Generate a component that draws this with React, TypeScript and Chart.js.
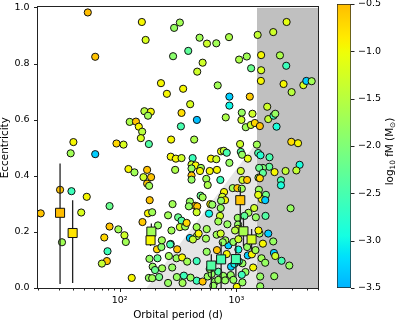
import React, { useEffect, useRef } from 'react';
import { Chart, registerables } from 'chart.js';

Chart.register(...registerables);

// ---------- data: binaries (circles) ----------
const period = [
  53.4, 61.8, 155, 167, 293, 328, 484, 560, 673, 865, 1521, 2068, 2692, 287, 387, 514, 462, 1055, 1228, 1337,
  1629, 2361, 2673, 226, 254, 350, 402, 692, 871, 871, 1303, 1629, 1621, 2535, 2972, 3746, 3972, 4415, 163, 185,
  175, 339, 459, 122, 138, 146, 156, 152, 335, 178, 276, 435, 94, 108, 40.2, 38.1, 61.8, 274, 303, 339,
  422, 811, 1113, 1104, 1373, 1837, 1874, 2080, 2152, 2208, 1204, 1330, 1439, 1589, 1076, 1498, 2952, 3373, 739, 780,
  827, 1091, 1119, 1253, 1537, 1609, 1922, 606, 673, 3480, 3262, 2638, 2122, 1911, 1687, 1568, 1687, 1546, 1589, 2409,
  2409, 871, 413, 448, 497, 413, 413, 413, 591, 682, 1091, 552, 729, 568, 1126, 1236, 931, 1020, 1113, 1558,
  1790, 1654, 1765, 784, 758, 800, 739, 494, 514, 598, 400, 119, 134, 172, 160, 186, 172, 179, 299, 181,
  82, 284, 21.1, 30.9, 38.7, 32.1, 52.3, 46.9, 82, 97.5, 110, 113, 73.9, 78.8, 77.8, 70.5, 127, 175, 190, 157,
  209, 228, 211, 264, 274, 311, 260, 317, 339, 328, 364, 375, 231, 192, 201, 282, 178, 190, 218, 260,
  309, 355, 346, 213, 278, 400, 459, 424, 444, 583, 557, 230, 271, 180, 307, 343, 457, 379, 557, 682,
  827, 853, 457, 514, 568, 614, 405, 656, 700, 773, 900, 1008, 462, 392, 622, 734, 1420, 1268, 1468, 1776,
  2913, 724, 837, 700, 1028, 1172, 1034, 1028, 457, 475, 549, 678, 734, 974, 804, 764, 942, 1040, 1040, 1236,
  1253, 1357, 1457, 1577, 1546, 1687, 1874, 2068, 2097, 2152, 2438, 2839, 1641, 1765, 2110, 1599, 1392, 1196, 1126, 1049,
  961, 591, 800, 895, 1008, 1126, 942, 700, 634, 1113, 1599, 488, 457, 1537,
];
const ecc = [
  0.982, 0.824, 0.948, 0.884, 0.927, 0.946, 0.892, 0.871, 0.872, 0.894, 0.902, 0.912, 0.948, 0.826, 0.845, 0.803, 0.771, 0.814, 0.825, 0.783,
  0.83, 0.829, 0.792, 0.73, 0.692, 0.71, 0.655, 0.722, 0.682, 0.65, 0.682, 0.776, 0.738, 0.727, 0.698, 0.723, 0.738, 0.737, 0.63, 0.628,
  0.614, 0.624, 0.599, 0.592, 0.593, 0.575, 0.557, 0.534, 0.576, 0.513, 0.529, 0.529, 0.515, 0.511, 0.52, 0.48, 0.477, 0.468, 0.461, 0.463,
  0.463, 0.608, 0.625, 0.599, 0.621, 0.646, 0.602, 0.614, 0.621, 0.575, 0.573, 0.581, 0.588, 0.577, 0.513, 0.511, 0.521, 0.516, 0.487, 0.489,
  0.482, 0.485, 0.475, 0.461, 0.481, 0.473, 0.466, 0.461, 0.459, 0.439, 0.419, 0.417, 0.413, 0.432, 0.428, 0.428, 0.41, 0.393, 0.391, 0.384,
  0.366, 0.446, 0.44, 0.437, 0.428, 0.426, 0.401, 0.386, 0.417, 0.421, 0.417, 0.389, 0.385, 0.367, 0.385, 0.385, 0.356, 0.356, 0.354, 0.35,
  0.332, 0.316, 0.313, 0.342, 0.325, 0.313, 0.311, 0.329, 0.323, 0.299, 0.308, 0.424, 0.412, 0.421, 0.395, 0.395, 0.372, 0.364, 0.421, 0.313,
  0.292, 0.299, 0.266, 0.35, 0.345, 0.163, 0.325, 0.269, 0.219, 0.209, 0.188, 0.164, 0.18, 0.131, 0.096, 0.087, 0.036, 0.266, 0.27, 0.235,
  0.138, 0.146, 0.106, 0.114, 0.157, 0.138, 0.259, 0.252, 0.24, 0.217, 0.219, 0.232, 0.07, 0.076, 0.064, 0.073, 0.036, 0.035, 0.039, 0.018,
  0.039, 0.044, 0.018, 0.223, 0.205, 0.178, 0.185, 0.173, 0.293, 0.265, 0.21, 0.17, 0.155, 0.104, 0.106, 0.109, 0.096, 0.094, 0.129, 0.135,
  0.121, 0.152, 0.026, 0.023, 0.041, 0.05, 0.037, 0.023, 0.058, 0.043, 0.076, 0.1, 0.291, 0.291, 0.297, 0.285, 0.285, 0.268, 0.252, 0.257,
  0.284, 0.257, 0.227, 0.237, 0.25, 0.257, 0.226, 0.211, 0.217, 0.194, 0.176, 0.19, 0.194, 0.205, 0.17, 0.163, 0.164, 0.174, 0.137, 0.146,
  0.116, 0.12, 0.135, 0.194, 0.205, 0.158, 0.194, 0.166, 0.125, 0.114, 0.097, 0.08, 0.106, 0.09, 0.042, 0.006, 0.073, 0.057, 0.088, 0.095,
  0.086, 0.068, 0.027, 0.046, 0.004, 0.02, 0.029, 0.029, 0.008, 0.047, 0.041, 0.417, 0.27, 0.332,
];
const logFM = [
  -0.5, -0.55, -0.95, -1.2, -1.8, -1.7, -1.7, -1.3, -1.7, -1.6, -1.4, -1.3, -1.1, -1.9, -2.3, -1.3, -1.3, -1.6, -1.7, -2.2,
  -0.95, -1.6, -2.6, -0.95, -0.95, -0.95, -1.2, -1.7, -3.3, -3.0, -0.6, -1.2, -0.95, -0.95, -1.5, -1.2, -3.3, -1.7, -1.5, -0.95,
  -1.7, -0.75, -3.4, -1.6, -0.55, -0.95, -1.5, -1.2, -2.5, -2.4, -0.95, -1.6, -0.7, -1.2, -0.95, -1.7, -3.3, -0.95, -0.95, -1.3,
  -2.6, -1.6, -1.8, -1.3, -1.3, -1.3, -1.4, -2.6, -1.8, -2.9, -1.7, -1.3, -0.7, -0.55, -1.3, -1.7, -0.75, -0.95, -1.0, -1.4,
  -2.5, -2.4, -1.8, -1.1, -2.5, -2.8, -2.5, -0.95, -1.3, -2.9, -1.4, -1.4, -0.95, -2.3, -2.0, -2.2, -2.3, -1.8, -0.7, -2.5,
  -2.9, -1.8, -1.3, -0.95, -1.7, -1.8, -0.55, -1.8, -0.95, -0.95, -1.3, -1.7, -2.6, -1.6, -1.3, -0.55, -1.7, -0.55, -1.7, -1.8,
  -2.1, -0.95, -3.3, -0.95, -1.3, -0.95, -1.8, -2.2, -1.7, -0.95, -1.8, -0.95, -1.7, -0.55, -1.3, -0.55, -0.55, -1.7, -1.6, -0.55,
  -2.2, -1.7, -0.55, -0.55, -2.6, -1.7, -0.95, -1.2, -0.55, -1.7, -1.3, -1.7, -0.7, -2.6, -0.55, -1.4, -0.95, -0.95, -1.7, -0.6,
  -0.7, -1.9, -2.2, -1.7, -2.5, -0.55, -1.7, -2.2, -2.4, -1.3, -1.7, -0.7, -1.7, -1.8, -2.2, -1.8, -1.8, -1.7, -2.1, -1.8,
  -1.8, -2.6, -1.7, -1.8, -1.7, -3.3, -1.6, -1.4, -0.55, -3.0, -1.7, -1.7, -2.5, -1.8, -1.8, -0.95, -2.6, -1.7, -1.8, -0.55,
  -0.95, -3.3, -2.6, -0.55, -1.8, -1.8, -1.8, -1.8, -2.4, -1.8, -3.3, -2.9, -0.55, -1.8, -1.8, -1.8, -1.3, -1.7, -1.8, -2.4,
  -1.8, -1.3, -1.8, -1.7, -1.8, -2.3, -1.8, -1.3, -1.7, -0.95, -1.7, -1.7, -1.3, -1.5, -1.7, -1.8, -1.8, -1.3, -2.9, -1.8,
  -3.3, -0.95, -1.7, -1.7, -0.95, -0.95, -3.3, -1.8, -3.3, -1.3, -2.5, -1.8, -1.7, -1.8, -1.8, -1.8, -0.95, -1.8, -1.8, -2.6,
  -3.0, -1.8, -1.8, -1.8, -0.95, -1.8, -1.8, -1.8, -1.8, -2.6, -1.8, -0.95, -1.3, -1.1,
];

// ---------- data: highlighted systems (squares with error bars) ----------
const sqPeriod = [30.9, 39.6, 187, 184, 1080, 1150, 1350, 740, 990, 610];
const sqEcc = [0.268, 0.196, 0.201, 0.17, 0.313, 0.202, 0.173, 0.102, 0.103, 0.08];
const sqLogFM = [-0.5, -0.8, -1.7, -0.95, -0.55, -1.65, -1.25, -2.5, -2.5, -2.4];
const sqEccLow = [0.014, 0.018, 0.17, 0.15, 0.21, 0.15, 0.13, 0.0, 0.04, 0.0];
const sqEccHigh = [0.444, 0.313, 0.23, 0.19, 0.36, 0.25, 0.21, 0.165, 0.16, 0.12];

// ---------- shaded regions ----------
const longPeriodLimit = 1500;
const wedgePeriod = [170, 1500];
const wedgeEcc = [0, 0.52];

// ---------- axes ----------
const X_MIN = 20;
const X_MAX = 5000;
const CB_MIN = -3.5;
const CB_MAX = -0.5;

const clamp = (v: number) => Math.min(1, Math.max(0, v));
function cmap(v: number): string {
  const f = clamp((v - CB_MIN) / (CB_MAX - CB_MIN));
  const t = 0.3 + 0.41 * f;
  const r = clamp((t - 0.35) / 0.31);
  const g = t < 0.125 ? 0 : t < 0.375 ? (t - 0.125) / 0.25 : t < 0.64 ? 1 : clamp((0.91 - t) / 0.27);
  const b = t < 0.34 ? 1 : clamp(1 - (t - 0.34) / 0.31);
  return `rgb(${Math.round(r * 255)},${Math.round(g * 255)},${Math.round(b * 255)})`;
}

const FONT = "'DejaVu Sans', sans-serif";
const TICK_FONT = { family: FONT, size: 9.5 };
const TITLE_FONT = { family: FONT, size: 10.4, lineHeight: 1 };
const NO_GRID = { display: false, drawTicks: false, tickLength: 0 };

const framePlugin = {
  id: 'frame',
  afterDraw(chart: any) {
    const { ctx, chartArea: a, scales } = chart;
    ctx.save();
    ctx.strokeStyle = '#222';
    ctx.lineWidth = 1;
    const L = Math.round(a.left) - 0.5;
    const R = Math.round(a.right) + 0.5;
    const T = Math.round(a.top) - 0.5;
    const B = Math.round(a.bottom) + 0.5;
    ctx.strokeRect(L, T, R - L, B - T);
    ctx.beginPath();
    for (const t of scales.x.ticks) {
      const px = Math.round(scales.x.getPixelForValue(t.value)) + 0.5;
      const lg = Math.log10(t.value);
      const major = Math.abs(lg - Math.round(lg)) < 1e-6;
      ctx.moveTo(px, B);
      ctx.lineTo(px, B + (major ? 3.5 : 2));
    }
    for (const t of scales.y.ticks) {
      const py = Math.round(scales.y.getPixelForValue(t.value)) + 0.5;
      ctx.moveTo(L, py);
      ctx.lineTo(L - 3.5, py);
    }
    ctx.stroke();
    ctx.restore();
  },
};

const cbLabelSegments = [
  { text: 'log', size: 10.4, dy: 0 },
  { text: '10', size: 7.3, dy: 2.4 },
  { text: ' fM (M', size: 10.4, dy: 0 },
  { text: '\u2299', size: 7.3, dy: 2.4 },
  { text: ')', size: 10.4, dy: 0 },
];

const colorbarPlugin = {
  id: 'cbdecor',
  afterDraw(chart: any) {
    const { ctx, chartArea: a, scales } = chart;
    ctx.save();
    ctx.strokeStyle = '#222';
    ctx.lineWidth = 1;
    ctx.beginPath();
    const R = Math.round(a.right);
    for (const t of scales.y.ticks) {
      const py = Math.round(scales.y.getPixelForValue(t.value)) + 0.5;
      ctx.moveTo(R, py);
      ctx.lineTo(R + 3.5, py);
    }
    ctx.stroke();
    // rotated colorbar label
    ctx.fillStyle = '#000';
    ctx.textBaseline = 'alphabetic';
    ctx.textAlign = 'left';
    let total = 0;
    const widths = cbLabelSegments.map((s) => {
      ctx.font = `${s.size}px ${FONT}`;
      const w = ctx.measureText(s.text).width;
      total += w;
      return w;
    });
    ctx.translate(59, 151.5);
    ctx.rotate(-Math.PI / 2);
    let x = -total / 2;
    cbLabelSegments.forEach((s, i) => {
      ctx.font = `${s.size}px ${FONT}`;
      ctx.fillText(s.text, x, 3.8 + s.dy);
      x += widths[i];
    });
    ctx.restore();
  },
};

export default function App() {
  const mainRef = useRef<HTMLCanvasElement>(null);
  const cbRef = useRef<HTMLCanvasElement>(null);

  useEffect(() => {
    Chart.defaults.font.family = FONT;

    const circles = period.map((p, i) => ({ x: p, y: ecc[i] }));
    const squares = sqPeriod.map((p, i) => ({ x: p, y: sqEcc[i] }));

    const errorBars = sqPeriod.map((p, i) => ({
      type: 'line' as const,
      data: [
        { x: p, y: sqEccLow[i] },
        { x: p, y: sqEccHigh[i] },
      ],
      borderColor: '#222',
      borderWidth: 1.3,
      pointRadius: 0,
      fill: false,
      order: 3,
    }));

    const main = new Chart(mainRef.current!, {
      type: 'scatter',
      data: {
        datasets: [
          {
            type: 'line',
            data: wedgePeriod.map((p, i) => ({ x: p, y: wedgeEcc[i] })),
            fill: 'origin',
            backgroundColor: 'rgb(229,229,229)',
            borderWidth: 0,
            borderColor: 'rgba(0,0,0,0)',
            pointRadius: 0,
            order: 11,
          } as any,
          {
            type: 'line',
            data: [
              { x: longPeriodLimit, y: 1 },
              { x: X_MAX * 3, y: 1 },
            ],
            fill: 'origin',
            backgroundColor: 'rgb(192,192,192)',
            borderWidth: 0,
            borderColor: 'rgba(0,0,0,0)',
            pointRadius: 0,
            order: 10,
          } as any,
          {
            type: 'scatter',
            data: circles,
            backgroundColor: logFM.map(cmap),
            pointBackgroundColor: logFM.map(cmap),
            borderColor: '#111',
            pointBorderColor: '#111',
            borderWidth: 1,
            pointBorderWidth: 1,
            pointRadius: 3.6,
            order: 5,
          } as any,
          ...(errorBars as any[]),
          {
            type: 'scatter',
            data: squares,
            pointStyle: 'rect',
            backgroundColor: sqLogFM.map(cmap),
            pointBackgroundColor: sqLogFM.map(cmap),
            borderColor: '#111',
            pointBorderColor: '#111',
            borderWidth: 1,
            pointBorderWidth: 1,
            pointRadius: 6.4,
            order: 1,
          } as any,
        ],
      },
      options: {
        responsive: false,
        animation: false,
        devicePixelRatio: 1,
        events: [],
        layout: { padding: { top: 4, right: 12, bottom: 0, left: 0 } },
        plugins: { legend: { display: false }, tooltip: { enabled: false } },
        scales: {
          x: {
            type: 'logarithmic',
            min: X_MIN,
            max: X_MAX,
            grid: NO_GRID,
            border: { display: false },
            ticks: {
              autoSkip: false,
              maxRotation: 0,
              color: '#000',
              font: TICK_FONT,
              padding: 7,
              callback: (v: any) => {
                const n = Number(v);
                if (Math.abs(n - 100) < 1e-6) return '10\u00B2';
                if (Math.abs(n - 1000) < 1e-6) return '10\u00B3';
                return '';
              },
            },
            title: {
              display: true,
              text: 'Orbital period (d)',
              color: '#000',
              font: TITLE_FONT,
              padding: { top: 0, bottom: 1.8 },
            },
            afterFit: (s: any) => {
              s.height = 34;
              s.paddingLeft = 0;
              s.paddingRight = 0;
            },
          },
          y: {
            type: 'linear',
            min: 0,
            max: 1,
            grid: NO_GRID,
            border: { display: false },
            ticks: {
              stepSize: 0.2,
              color: '#000',
              font: TICK_FONT,
              padding: 8.5,
              callback: (v: any) => Number(v).toFixed(1),
            },
            title: {
              display: true,
              text: 'Eccentricity',
              color: '#000',
              font: TITLE_FONT,
              padding: { top: 0.5, bottom: 0 },
            },
            afterFit: (s: any) => {
              s.width = 38;
              s.paddingTop = 0;
              s.paddingBottom = 0;
            },
          },
        },
      } as any,
      plugins: [framePlugin],
    });

    const cb = new Chart(cbRef.current!, {
      type: 'bar',
      data: {
        labels: [''],
        datasets: [
          {
            data: [[CB_MIN, CB_MAX]] as any,
            backgroundColor: (c: any) => {
              const chart = c.chart;
              if (!chart.chartArea || !chart.scales.y) return 'rgba(0,0,0,0)';
              const ys = chart.scales.y;
              const g = chart.ctx.createLinearGradient(0, ys.getPixelForValue(CB_MIN), 0, ys.getPixelForValue(CB_MAX));
              for (let i = 0; i <= 60; i++) {
                const f = i / 60;
                g.addColorStop(f, cmap(CB_MIN + f * (CB_MAX - CB_MIN)));
              }
              return g;
            },
            borderColor: '#222',
            borderWidth: 1,
            borderSkipped: false,
            barPercentage: 1,
            categoryPercentage: 1,
          } as any,
        ],
      },
      options: {
        responsive: false,
        animation: false,
        devicePixelRatio: 1,
        events: [],
        layout: { padding: { top: 4, right: 0, bottom: 34, left: 7 } },
        plugins: { legend: { display: false }, tooltip: { enabled: false } },
        scales: {
          x: { display: false, grid: NO_GRID },
          y: {
            position: 'right',
            min: CB_MIN,
            max: CB_MAX,
            grid: NO_GRID,
            border: { display: false },
            ticks: {
              stepSize: 0.5,
              color: '#000',
              font: TICK_FONT,
              padding: 7,
              callback: (v: any) => {
                const n = Number(v);
                return (n < 0 ? '\u2212' : '') + Math.abs(n).toFixed(1);
              },
            },
            afterFit: (s: any) => {
              s.width = 48;
              s.paddingTop = 0;
              s.paddingBottom = 0;
            },
          },
        },
      } as any,
      plugins: [colorbarPlugin],
    });

    return () => {
      main.destroy();
      cb.destroy();
    };
  }, []);

  return (
    <div style={{ position: 'fixed', left: 0, top: 0, width: 399, height: 322, background: '#fff' }}>
      <canvas ref={mainRef} width={330} height={322} style={{ position: 'absolute', left: 0, top: 0 }} />
      <canvas ref={cbRef} width={69} height={322} style={{ position: 'absolute', left: 330, top: 0 }} />
    </div>
  );
}
